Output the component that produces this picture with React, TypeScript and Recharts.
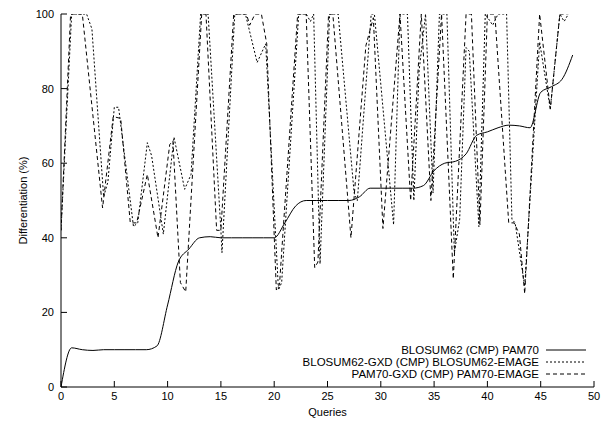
import { LineChart, Line, XAxis, YAxis } from "recharts";

// solid: BLOSUM62 (CMP) PAM70
const solidX = [0, 1, 2, 3, 4, 5, 6, 7, 8, 9, 10, 11, 12, 13, 14, 15, 16, 17, 18, 19, 20, 21, 22, 23, 24, 25, 26, 27, 28, 29, 30, 31, 32, 33, 34, 35, 36, 37, 38, 39, 40, 41, 42, 43, 44, 45, 46, 47, 48];
const solidY = [0, 10.5, 10, 9.8, 10, 10, 10, 10, 10, 11, 22, 33.5, 37, 40, 40.3, 40, 40, 40, 40, 40, 40, 44, 48.5, 50, 50, 50, 50, 50, 51, 53.3, 53.3, 53.3, 53.3, 53.3, 54, 58, 60, 60.5, 62.5, 67.5, 68.4, 69.5, 70.2, 70, 69.5, 79, 80.5, 82.5, 89];

// dotted: BLOSUM62-GXD (CMP) BLOSUM62-EMAGE
const dottedX = [0, 1, 2.4, 2.9, 4, 4.4, 5, 5.4, 6.8, 7.2, 8.1, 8.5, 9.6, 10.6, 11.6, 12.2, 13.1, 13.8, 15, 15.1, 16.3, 17.3, 18.4, 19.2, 20.4, 20.7, 22.3, 23, 23.4, 23.7, 24.3, 25.2, 26, 27.5, 27.8, 29.1, 29.4, 31.2, 31.8, 32.5, 33.1, 33.6, 34.2, 34.9, 35.5, 36.2, 36.9, 37.4, 38, 38.3, 39.2, 39.8, 40.5, 41, 41.8, 42.3, 42.6, 43.5, 44.9, 45.9, 46.8, 47.2, 47.6];
const dottedY = [42, 100, 100, 96, 51, 55, 75, 75, 43, 44, 65.5, 62, 41, 67, 53, 57, 100, 100, 42, 36, 100, 100, 87, 92, 26, 28, 100, 100, 98, 100, 33, 100, 100, 52, 50, 100, 100, 43.5, 100, 100, 50, 85, 100, 52, 100, 100, 36, 45, 91, 90, 43, 100, 97, 100, 100, 45, 44, 27, 92.5, 74.5, 100, 98, 100];

// dashed: PAM70-GXD (CMP) PAM70-EMAGE
const dashedX = [0, 0.9, 2, 3.9, 4.9, 5.6, 6.5, 7.1, 8.1, 9.1, 10.2, 10.5, 11.2, 11.7, 13.2, 13.6, 14.6, 15, 16.2, 17.4, 17.7, 18.2, 18.8, 19.3, 20.2, 20.5, 22.2, 23, 23.8, 24.1, 25.1, 25.5, 27.2, 28.6, 29.3, 30.2, 31.8, 32.8, 33.8, 34.7, 35.7, 36.8, 38, 38.5, 39.3, 40, 40.7, 42, 42.5, 43, 43.5, 44.9, 45.9, 46.8, 47.5];
const dashedY = [42, 100, 100, 48, 72.5, 72, 44, 44, 57, 40, 65, 66, 28, 25.5, 100, 100, 42, 42, 100, 100, 97, 100, 100, 92, 26, 27.5, 100, 100, 32, 33.5, 100, 100, 40, 91.5, 99, 42.5, 100, 50, 100, 50, 100, 29, 100, 100, 43.5, 100, 100, 44, 44, 41, 25, 100, 74.5, 100, 100];

const xTicks = [0, 5, 10, 15, 20, 25, 30, 35, 40, 45, 50];
const yTicks = [0, 20, 40, 60, 80, 100];

const legendNames = [
  "BLOSUM62 (CMP) PAM70",
  "BLOSUM62-GXD (CMP) BLOSUM62-EMAGE",
  "PAM70-GXD (CMP) PAM70-EMAGE",
];
const legendDash = ["", "2 2", "4 3"];

const toPoints = (xs: number[], ys: number[]) => xs.map((x, i) => ({ x, y: ys[i] }));

const FONT = "'Liberation Sans', Arial, sans-serif";

const BottomTick = ({ x, y, payload }: any) => (
  <g>
    <line x1={x} x2={x} y1={y} y2={y - 6} stroke="#000" />
    <text x={x} y={y + 13} textAnchor="middle" fontSize={11} fontFamily={FONT} fill="#000">
      {payload.value}
    </text>
  </g>
);

const TopTick = ({ x, y }: any) => <line x1={x} x2={x} y1={y} y2={y + 6} stroke="#000" />;

const LeftTick = ({ x, y, payload }: any) => (
  <g>
    <line x1={x} x2={x + 6} y1={y} y2={y} stroke="#000" />
    <text x={x - 7} y={y + 4} textAnchor="end" fontSize={11} fontFamily={FONT} fill="#000">
      {payload.value}
    </text>
  </g>
);

const RightTick = ({ x, y }: any) => <line x1={x} x2={x - 6} y1={y} y2={y} stroke="#000" />;

const YLabel = ({ viewBox }: any) => {
  const cx = 23;
  const cy = viewBox.y + viewBox.height / 2;
  return (
    <text x={cx} y={cy} transform={`rotate(-90 ${cx} ${cy})`} textAnchor="middle" dominantBaseline="central" fontSize={11} fontFamily={FONT} fill="#000">
      Differentiation (%)
    </text>
  );
};

const XLabel = ({ viewBox }: any) => (
  <text x={viewBox.x + viewBox.width / 2} y={416} textAnchor="middle" fontSize={11} fontFamily={FONT} fill="#000">
    Queries
  </text>
);

export default function App() {
  const solid = toPoints(solidX, solidY);
  const dotted = toPoints(dottedX, dottedY);
  const dashed = toPoints(dashedX, dashedY);

  return (
    <div style={{ position: "absolute", left: 0, top: 0, width: 602, height: 425, background: "#fff" }}>
      <LineChart width={602} height={425} margin={{ top: 14, right: 8, bottom: 0, left: 0 }}>
        <XAxis
          dataKey="x"
          type="number"
          domain={[0, 50]}
          ticks={xTicks}
          interval={0}
          height={38}
          tickSize={0}
          tickMargin={0}
          tickLine={false}
          tick={<BottomTick />}
          axisLine={{ stroke: "#000" }}
          allowDataOverflow
          label={<XLabel />}
        />
        <XAxis
          xAxisId="top"
          orientation="top"
          type="number"
          domain={[0, 50]}
          ticks={xTicks}
          interval={0}
          height={0}
          tickSize={0}
          tickMargin={0}
          tickLine={false}
          tick={<TopTick />}
          axisLine={{ stroke: "#000" }}
        />
        <YAxis
          type="number"
          domain={[0, 100]}
          ticks={yTicks}
          interval={0}
          width={61}
          tickSize={0}
          tickMargin={0}
          tickLine={false}
          tick={<LeftTick />}
          axisLine={{ stroke: "#000" }}
          allowDataOverflow
          label={<YLabel />}
        />
        <YAxis
          yAxisId="right"
          orientation="right"
          type="number"
          domain={[0, 100]}
          ticks={yTicks}
          interval={0}
          width={0}
          tickSize={0}
          tickMargin={0}
          tickLine={false}
          tick={<RightTick />}
          axisLine={{ stroke: "#000" }}
        />
        <Line data={solid} dataKey="y" type="monotone" stroke="#000" strokeWidth={1} dot={false} isAnimationActive={false} />
        <Line data={dotted} dataKey="y" type="linear" stroke="#000" strokeWidth={1} strokeDasharray="2 2" dot={false} isAnimationActive={false} />
        <Line data={dashed} dataKey="y" type="linear" stroke="#000" strokeWidth={1} strokeDasharray="4 3" dot={false} isAnimationActive={false} />
      </LineChart>
      <div style={{ position: "absolute", top: 344, right: 14, fontFamily: FONT, fontSize: 11.5, lineHeight: "12px", color: "#000" }}>
        {legendNames.map((name, i) => (
          <div key={name} style={{ display: "flex", justifyContent: "flex-end", alignItems: "center", height: 12 }}>
            <span style={{ whiteSpace: "nowrap" }}>{name}</span>
            <svg width={42} height={12} style={{ marginLeft: 7 }}>
              <line x1={0} x2={40} y1={6} y2={6} stroke="#000" strokeDasharray={legendDash[i] || undefined} />
            </svg>
          </div>
        ))}
      </div>
    </div>
  );
}
